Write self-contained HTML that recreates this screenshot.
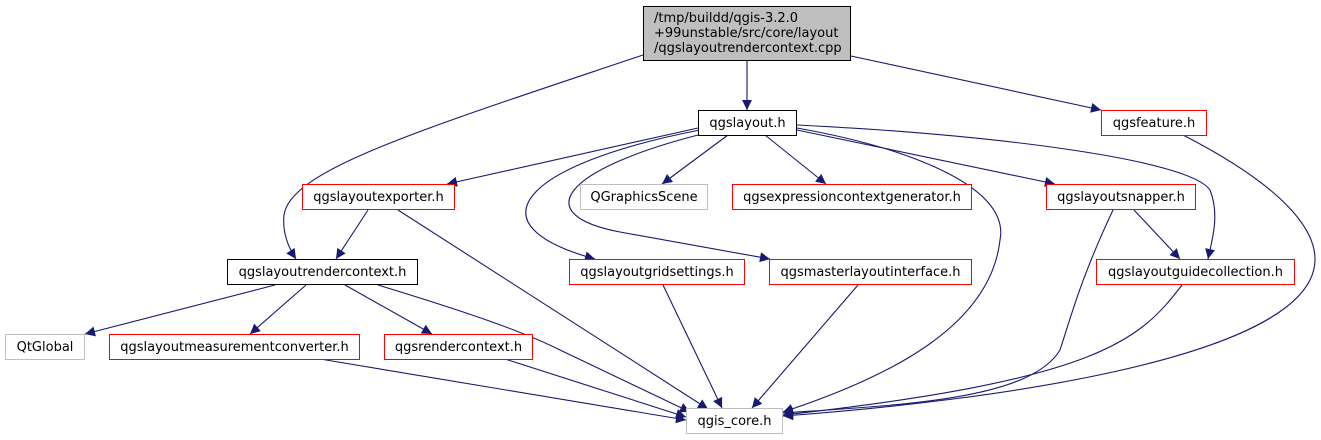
<!DOCTYPE html>
<html><head><meta charset="utf-8"><style>
html,body{margin:0;padding:0;background:#fff;}
svg{display:block;}
text{font-family:"DejaVu Sans","Liberation Sans",sans-serif;font-size:13px;fill:#000;}
</style></head><body>
<svg width="1321" height="440" viewBox="0 0 1321 440" xmlns="http://www.w3.org/2000/svg">
<defs>
<marker id="a" viewBox="0 0 10 10" refX="10" refY="5" markerWidth="12" markerHeight="10" markerUnits="userSpaceOnUse" orient="auto">
<path d="M0,0 L10,5 L0,10 z" fill="#191970"/>
</marker>
</defs>
<g fill="none" stroke="#191970" stroke-width="1.1" marker-end="url(#a)">
<path d="M747,61 L747,110"/>
<path d="M643,55 C420,130 290,170 284,215 C282,235 290,250 296,259"/>
<path d="M851,56 L1101,110"/>
<path d="M698,128 L447,184"/>
<path d="M700,130 C520,165 470,225 595,259"/>
<path d="M702,134 C560,170 530,215 620,232 L770,259"/>
<path d="M728,135 L662,184"/>
<path d="M765,135 L826,184"/>
<path d="M797,130 L1055,184"/>
<path d="M797,128 C920,150 1010,190 1000,240 C990,330 880,380 783,412"/>
<path d="M797,125 C1000,135 1190,160 1210,190 C1220,215 1212,240 1208,259"/>
<path d="M1183,135 C1290,190 1330,240 1310,280 C1270,360 1000,400 783,416"/>
<path d="M368,210 L336,259"/>
<path d="M398,210 L708,409"/>
<path d="M275,285 L85,334"/>
<path d="M306,285 L250,334"/>
<path d="M345,285 L432,334"/>
<path d="M378,285 C460,310 520,330 560,350 L690,412"/>
<path d="M320,359 L686,420"/>
<path d="M505,359 L686,417"/>
<path d="M663,285 L722,408"/>
<path d="M858,285 L752,408"/>
<path d="M1113,210 C1080,280 1070,320 1060,350 C1030,400 900,405 783,413"/>
<path d="M1134,210 L1180,259"/>
<path d="M1182,285 C1140,340 1100,380 783,415"/>
</g>
<g stroke-width="1">
<rect x="643.5" y="6.5" width="207" height="54" fill="#bfbfbf" stroke="#000"/>
<rect x="698.5" y="110.5" width="98" height="25" fill="#fff" stroke="#000"/>
<rect x="1101.5" y="110.5" width="105" height="25" fill="#fff" stroke="#f00"/>
<rect x="580.5" y="184.5" width="127" height="25" fill="#fff" stroke="#bfbfbf"/>
<rect x="732.5" y="184.5" width="239" height="25" fill="#fff" stroke="#f00"/>
<rect x="1046.5" y="184.5" width="149" height="25" fill="#fff" stroke="#f00"/>
<rect x="302.5" y="184.5" width="152" height="25" fill="#fff" stroke="#f00"/>
<rect x="227.5" y="259.5" width="190" height="25" fill="#fff" stroke="#000"/>
<rect x="569.5" y="259.5" width="175" height="25" fill="#fff" stroke="#f00"/>
<rect x="769.5" y="259.5" width="202" height="25" fill="#fff" stroke="#f00"/>
<rect x="1096.5" y="259.5" width="198" height="25" fill="#fff" stroke="#f00"/>
<rect x="5.5" y="334.5" width="79" height="25" fill="#fff" stroke="#bfbfbf"/>
<rect x="109.5" y="334.5" width="250" height="25" fill="#fff" stroke="#f00"/>
<rect x="384.5" y="334.5" width="148" height="25" fill="#fff" stroke="#f00"/>
<rect x="686.5" y="408.5" width="96" height="25" fill="#fff" stroke="#bfbfbf"/>
</g>
<text x="654" y="22">/tmp/buildd/qgis-3.2.0</text>
<text x="654" y="37">+99unstable/src/core/layout</text>
<text x="654" y="52">/qgslayoutrendercontext.cpp</text>
<g text-anchor="middle">
<text x="747.5" y="127">qgslayout.h</text>
<text x="1154" y="127">qgsfeature.h</text>
<text x="644" y="201">QGraphicsScene</text>
<text x="852" y="201">qgsexpressioncontextgenerator.h</text>
<text x="1121" y="201">qgslayoutsnapper.h</text>
<text x="378.5" y="201">qgslayoutexporter.h</text>
<text x="322.5" y="276">qgslayoutrendercontext.h</text>
<text x="657" y="276">qgslayoutgridsettings.h</text>
<text x="870.5" y="276">qgsmasterlayoutinterface.h</text>
<text x="1195.5" y="276">qgslayoutguidecollection.h</text>
<text x="45" y="351">QtGlobal</text>
<text x="234.5" y="351">qgslayoutmeasurementconverter.h</text>
<text x="458.5" y="351">qgsrendercontext.h</text>
<text x="734.5" y="425">qgis_core.h</text>
</g>
</svg>
</body></html>
